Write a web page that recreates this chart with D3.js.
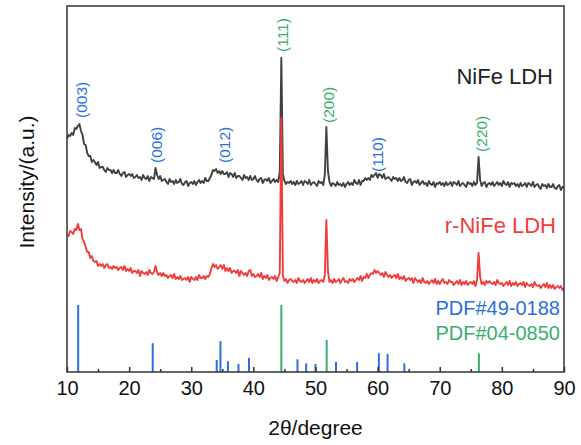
<!DOCTYPE html>
<html>
<head>
<meta charset="utf-8">
<script src="https://cdn.jsdelivr.net/npm/d3@7"></script>
<style>
  html, body { margin: 0; padding: 0; background: #fff; }
  svg { display: block; font-family: "Liberation Sans", Arial, sans-serif; }
</style>
</head>
<body>
<svg id="chart" width="581" height="445"></svg>
<script>
// Step scan: 2θ from 10° to 90°, 0.25° per step; intensities in a.u.
const scanStart = 10;
const scanStep = 0.25;

const nifeLDH = [
  233,237,236,239,237,244,243,246,  248,241,237,228,227,219,216,216,
  210,212,210,207,210,204,205,205,  202,200,204,202,202,199,202,199,
  199,202,198,196,199,200,195,197,  198,196,198,194,195,197,194,195,
  192,197,194,193,196,191,195,194,  193,204,197,193,196,191,192,193,
  190,188,193,190,191,188,192,189,  190,193,188,187,190,191,186,189,
  190,188,191,187,190,192,189,191,  189,194,191,191,194,197,202,201,
  203,199,201,198,201,198,198,200,  195,199,198,195,199,194,196,196,
  194,192,197,194,195,192,196,192,  193,196,192,190,193,194,189,192,
  193,191,194,189,191,193,190,192,  190,200,314,198,191,188,190,189,
  191,188,190,187,191,188,189,191,  187,191,190,188,192,187,189,190,
  188,186,191,189,190,187,197,245,  201,190,186,189,188,186,190,187,
  188,186,189,185,188,190,187,189,  187,192,189,188,192,187,191,191,
  194,192,194,192,197,195,197,199,  194,198,197,194,198,193,194,195,
  193,191,195,193,194,191,194,191,  192,195,190,189,192,193,187,190,
  191,189,192,187,189,191,188,189,  186,191,188,187,190,185,189,188,
  190,187,189,186,190,187,188,190,  186,190,189,187,191,186,188,189,
  187,185,190,188,189,186,190,187,  189,215,192,186,189,190,185,188,
  189,187,190,186,188,190,187,189,  186,191,188,187,190,185,189,188,
  189,186,188,185,189,186,187,189,  185,189,188,186,190,185,187,188,
  185,183,188,186,187,184,188,185,  185,188,184,183,186,187,182,185,
  185
];

const rNifeLDH = [
  137,136,141,140,138,143,142,148,  142,143,133,130,125,120,120,114,
  116,111,110,111,106,108,106,108,  104,107,108,104,105,103,106,104,
  105,102,104,105,102,106,101,103,  101,104,99,101,101,99,102,96,
  101,99,98,100,97,102,99,98,       100,106,100,97,99,96,99,96,
  97,94,96,97,94,98,93,95,          93,96,92,93,94,92,95,90,
  95,93,92,95,92,97,94,94,          96,93,96,95,98,104,108,105,
  107,103,105,107,103,107,101,104,  101,104,99,101,101,99,102,96,
  101,99,97,99,96,101,102,96,       98,95,96,98,95,99,93,96,
  94,97,92,94,95,93,96,91,          95,99,254,96,91,93,89,92,
  93,91,90,92,89,94,91,90,          92,89,91,93,90,94,89,92,
  90,93,89,91,92,90,97,152,         101,90,92,89,93,90,91,93,
  89,92,94,90,91,89,93,91,          93,90,92,94,92,96,91,95,
  94,98,94,97,99,98,102,99,         101,99,97,99,95,100,97,95,
  97,94,96,97,94,98,93,95,          93,96,91,93,94,92,94,89,
  94,92,90,92,89,94,90,89,          91,88,90,92,89,93,88,91,
  88,91,93,89,90,88,92,90,          90,87,89,91,88,92,87,90,
  88,91,87,89,90,88,91,86,          92,119,95,88,90,87,91,89,
  91,89,88,90,87,92,89,88,          89,86,88,90,87,91,86,89,
  87,90,86,88,89,87,90,85,          89,87,86,88,85,90,87,86,
  87,84,86,88,85,89,84,87,          84,87,83,85,86,84,86,82,
  84
];

// Reference cards: [2θ, relative intensity %]
const pdf490188 = [
  [11.8,100],[23.8,43],[34.1,18],[34.7,46],[35.9,16],[37.6,12],[39.3,21],[47.1,19],
  [48.5,13],[50.0,12],[53.3,15],[56.7,15],[60.2,28],[61.6,27],[64.3,13]
];
const pdf040850 = [[44.5,100],[51.8,48],[76.3,28]];

// Miller indices above the peaks: [label, 2θ, intensity at label bottom, phase]
const peakLabels = [
  ["(003)", 12.2, 254, "ldh"],
  ["(006)", 24.4, 209, "ldh"],
  ["(012)", 35.3, 209, "ldh"],
  ["(111)", 44.6, 320, "ni"],
  ["(200)", 52.0, 249, "ni"],
  ["(110)", 59.9, 200, "ldh"],
  ["(220)", 76.6, 220, "ni"]
];

const xTicks = [10, 20, 30, 40, 50, 60, 70, 80, 90];
const xMinorTicks = [15, 25, 35, 45, 55, 65, 75, 85];

const colors = { black: "#404040", red: "#f03c3c", ldh: "#2a6fdb", ni: "#3aae6e", frame: "#333" };

const svg = d3.select("#chart");
const m = { left: 67, right: 564, top: 6, bottom: 372 };

const x = d3.scaleLinear().domain([10, 90]).range([m.left, m.right]);
const y = d3.scaleLinear().domain([0, 366]).range([m.bottom, m.top]);
const yStick = d3.scaleLinear().domain([0, 100]).range([m.bottom, 305]);

svg.append("defs").append("clipPath").attr("id", "plot-clip")
  .append("rect").attr("x", m.left).attr("y", m.top)
  .attr("width", m.right - m.left).attr("height", m.bottom - m.top);

const line = d3.line()
  .x((d, i) => x(scanStart + i * scanStep))
  .y(d => y(d));

const plot = svg.append("g").attr("clip-path", "url(#plot-clip)");

plot.append("path").datum(nifeLDH)
  .attr("d", line).attr("fill", "none")
  .attr("stroke", colors.black).attr("stroke-width", 1.9).attr("stroke-linejoin", "round");

plot.append("path").datum(rNifeLDH)
  .attr("d", line).attr("fill", "none")
  .attr("stroke", colors.red).attr("stroke-width", 1.9).attr("stroke-linejoin", "round");

// stick patterns of the reference cards
function sticks(data, color) {
  plot.append("g").selectAll("line").data(data).join("line")
    .attr("x1", d => x(d[0])).attr("x2", d => x(d[0]))
    .attr("y1", yStick(0)).attr("y2", d => yStick(d[1]))
    .attr("stroke", color).attr("stroke-width", 2);
}
sticks(pdf490188, colors.ldh);
sticks(pdf040850, colors.ni);

// x axis with inward ticks
const xAxis = d3.axisBottom(x).tickValues(xTicks).tickSize(-5).tickPadding(9).tickFormat(d3.format("d"));
const gx = svg.append("g").attr("transform", `translate(0,${m.bottom})`).call(xAxis);
gx.select(".domain").remove();
gx.selectAll(".tick line").attr("stroke", colors.frame).attr("stroke-width", 1.5);
gx.selectAll(".tick text").attr("font-size", 20).attr("fill", "#111")
  .attr("font-family", "Liberation Sans, Arial, sans-serif");

const gxMinor = svg.append("g").attr("transform", `translate(0,${m.bottom})`)
  .call(d3.axisBottom(x).tickValues(xMinorTicks).tickSize(-3).tickFormat(""));
gxMinor.select(".domain").remove();
gxMinor.selectAll(".tick line").attr("stroke", colors.frame).attr("stroke-width", 1.5);

// frame
svg.append("rect").attr("x", m.left).attr("y", m.top)
  .attr("width", m.right - m.left).attr("height", m.bottom - m.top)
  .attr("fill", "none").attr("stroke", colors.frame).attr("stroke-width", 1.5);

// axis titles
svg.append("text").attr("x", (m.left + m.right) / 2).attr("y", 435)
  .attr("text-anchor", "middle").attr("font-size", 21).attr("fill", "#111")
  .text("2θ/degree");
svg.append("text").attr("transform", "translate(34,182) rotate(-90)")
  .attr("text-anchor", "middle").attr("font-size", 21).attr("fill", "#111")
  .text("Intensity/(a.u.)");

// peak indices
svg.append("g").selectAll("text").data(peakLabels).join("text")
  .attr("transform", d => `translate(${x(d[1]) + 6},${y(d[2])}) rotate(-90)`)
  .attr("font-size", 15.5)
  .attr("fill", d => colors[d[3]])
  .text(d => d[0]);

// sample names and card numbers
const legend = [
  ["NiFe LDH", 553, 84, "#222", 22],
  ["r-NiFe LDH", 556, 233, colors.red, 22],
  ["PDF#49-0188", 560, 315, colors.ldh, 20],
  ["PDF#04-0850", 560, 340, colors.ni, 20]
];
svg.append("g").selectAll("text").data(legend).join("text")
  .attr("x", d => d[1]).attr("y", d => d[2])
  .attr("text-anchor", "end").attr("font-size", d => d[4]).attr("fill", d => d[3])
  .text(d => d[0]);
</script>
</body>
</html>
